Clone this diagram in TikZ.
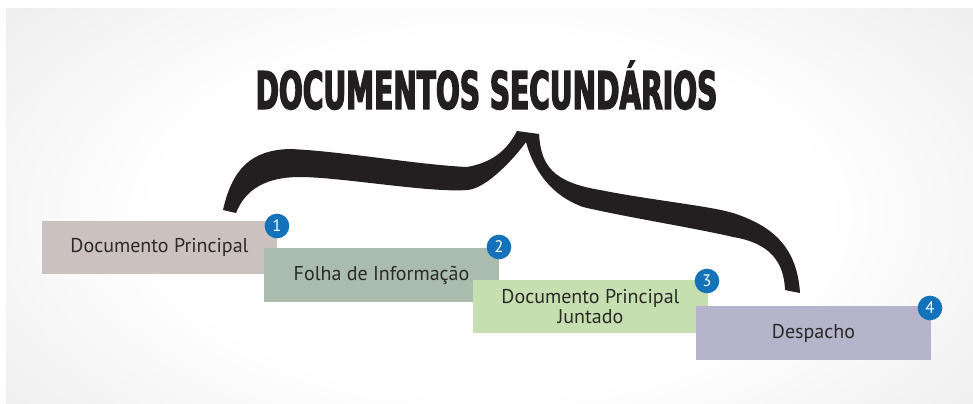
\documentclass[tikz,border=0pt]{standalone}
\usepackage{fontspec}
\setmainfont{PT Sans}
\newfontfamily\titlefont{DejaVu Sans}[FakeStretch=0.54,FakeBold=2.5]
\definecolor{bgmid}{HTML}{EEEEEF}
\definecolor{bgedge}{HTML}{D6D7D9}
\definecolor{bgcorner}{HTML}{C4C5C7}
\definecolor{bracecol}{HTML}{231F20}
\definecolor{txtcol}{HTML}{2B2A29}
\definecolor{boxA}{HTML}{CBC1BF}
\definecolor{boxB}{HTML}{AABCAD}
\definecolor{boxC}{HTML}{C6DFB0}
\definecolor{boxD}{HTML}{B5B4CB}
\definecolor{numblue}{HTML}{1472BB}
\pgfdeclareradialshading{bgshade}{\pgfpoint{0bp}{0bp}}{color(0bp)=(white); color(14bp)=(white); color(26bp)=(bgmid); color(37bp)=(bgedge); color(50bp)=(bgcorner)}
\tikzset{
  docbox/.style={rectangle, inner sep=0pt, minimum width=176.25pt, minimum height=40pt,
    font=\fontsize{15}{15}\selectfont, text=txtcol, align=center},
  numdot/.style={circle, fill=numblue, inner sep=0pt, minimum size=18.5pt,
    font=\fontsize{12.5}{12.5}\selectfont, text=white},
}
\begin{document}
\begin{tikzpicture}[x=0.75pt,y=-0.75pt]
\useasboundingbox (0,0) rectangle (973,403);
% background panel
\begin{scope}
  \clip (6,9) rectangle (973,403);
  \shade[shading=bgshade] (-110,-105) rectangle (1090,535);
\end{scope}
% title
\node[anchor=base, text=bracecol, inner sep=0pt, font=\titlefont\bfseries\fontsize{39}{39}\selectfont] (title) at (486.5,109) {DOCUMENTOS SECUNDÁRIOS};
% brace
\fill[bracecol] (223,210) .. controls (232,170) and (250,150) .. (290,149)
  .. controls (340,151) and (420,165) .. (467,167)
  .. controls (495,162) and (508,148) .. (517,131)
  -- (539,134)
  .. controls (541,165) and (552,182) .. (600,190)
  .. controls (650,200) and (710,206) .. (733,213)
  .. controls (770,225) and (797,245) .. (800,293)
  -- (785,290)
  .. controls (784,262) and (770,243) .. (733,237)
  .. controls (700,229) and (620,216) .. (583,207)
  .. controls (555,197) and (535,175) .. (526,142)
  .. controls (516,156) and (487,189) .. (467,190)
  .. controls (430,193) and (340,177) .. (300,177)
  .. controls (265,177) and (245,190) .. (236,213)
  -- cycle;
% boxes
\node[docbox, fill=boxA] (b1) at (159.5,247.5) {Documento Principal};
\node[docbox, fill=boxB] (b2) at (381.5,275) {Folha de Informação};
\node[docbox, fill=boxC] (b3) at (590.5,306.5) {Documento Principal\\Juntado};
\node[docbox, fill=boxD] (b4) at (813.5,333) {Despacho};
% numbers
\node[numdot] (n1) at (277,226) {1};
\node[numdot] (n2) at (499,247) {2};
\node[numdot] (n3) at (707,281) {3};
\node[numdot] (n4) at (930,308) {4};
\end{tikzpicture}
\end{document}
